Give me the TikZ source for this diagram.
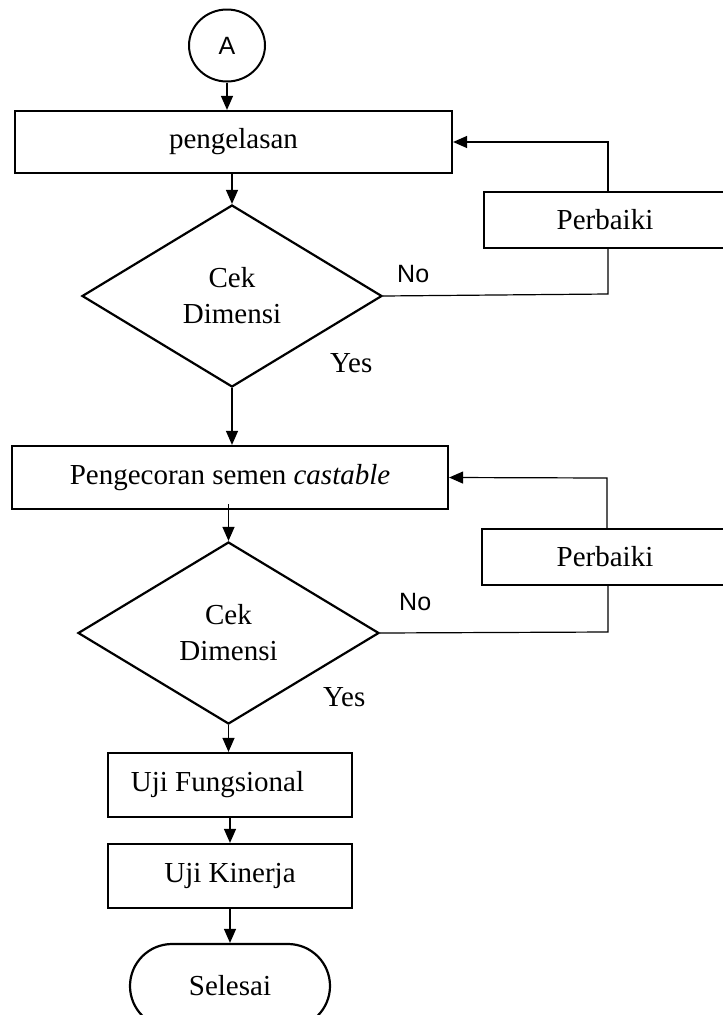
\documentclass[tikz,border=0pt]{standalone}
\usepackage{fontspec}
\setmainfont{Liberation Serif}
\newfontfamily\sansf{Liberation Sans}
\usetikzlibrary{shapes.geometric,shapes.misc,arrows.meta}
\begin{document}
\begin{tikzpicture}[x=1pt,y=-1pt,
  box/.style={draw,line width=2.2pt,rectangle,inner sep=0pt,font=\fontsize{29}{36}\selectfont},
  dec/.style={draw,line width=2.2pt,diamond,inner sep=0pt,align=center,font=\fontsize{29}{36}\selectfont},
  lbl/.style={inner sep=0pt,font=\fontsize{29}{36}\selectfont},
  sl/.style={inner sep=0pt,font=\sansf\fontsize{25}{30}\selectfont},
  conn/.style={line width=1.2pt},
  arr/.style={line width=1.2pt,-{Triangle[length=14pt,width=12pt]}}]
\useasboundingbox (0,0) rectangle (723,1015);
\clip (0,0) rectangle (723,1015);
% nodes
\node[draw,line width=2pt,ellipse,minimum width=76pt,minimum height=72pt,inner sep=0pt,font=\sansf\fontsize{25}{30}\selectfont] (A) at (227,45.5) {A};
\node[box,minimum width=437pt,minimum height=62pt] (b1) at (233.5,142) {pengelasan};
\node[dec,minimum width=300pt,minimum height=182pt] (d1) at (232,296) {Cek\\Dimensi};
\node[box,minimum width=250pt,minimum height=56pt] (p1) at (609,220) {};
\node[lbl] (p1t) at (605,220) {Perbaiki};
\node[box,minimum width=436pt,minimum height=63pt] (b2) at (230,477.5) {Pengecoran semen \textit{castable}};
\node[dec,minimum width=301pt,minimum height=182pt] (d2) at (228.5,633) {Cek\\Dimensi};
\node[box,minimum width=250pt,minimum height=56pt] (p2) at (607,557) {};
\node[lbl] (p2t) at (605,557) {Perbaiki};
\node[box,minimum width=244pt,minimum height=64pt] (u1) at (230,785) {};
\node[lbl] (u1t) at (217.5,785) {Uji Fungsional};
\node[box,minimum width=244pt,minimum height=64pt] (u2) at (230,876) {Uji Kinerja};
\node[draw,line width=2.2pt,rounded rectangle,minimum width=200pt,minimum height=84pt,inner sep=0pt,font=\fontsize{29}{36}\selectfont] (s) at (230,986) {Selesai};
% labels
\node[lbl,anchor=base west] (y1) at (330,372) {Yes};
\node[lbl,anchor=base west] (y2) at (323,706) {Yes};
\node[sl,anchor=base west] (n1) at (397,282) {No};
\node[sl,anchor=base west] (n2) at (399,610) {No};
% coordinates for loops
\coordinate (c1) at (608,294);
\coordinate (c2) at (608,142);
\coordinate (c3) at (608,632);
\coordinate (c4) at (607,478);
% connectors
\draw[arr] (A.south) -- (A.south |- b1.north);
\draw[arr] (d1.north |- b1.south) -- (d1.north);
\draw[conn] (d1.east) -- (c1) -- (c1 |- p1.south);
\draw[arr] (c2 |- p1.north) -- (c2) -- (b1.east);
\draw[arr] (d1.south) -- (d1.south |- b2.north);
\draw[arr] ([yshift=6pt]d2.north |- b2.south) -- (d2.north);
\draw[conn] (d2.east) -- (c3) -- (c3 |- p2.south);
\draw[arr] (c4 |- p2.north) -- (c4) -- (b2.east);
\draw[arr] (d2.south) -- (d2.south |- u1.north);
\draw[arr] (u1.south) -- (u2.north);
\draw[arr] (u2.south) -- (s.north);
\end{tikzpicture}
\end{document}
